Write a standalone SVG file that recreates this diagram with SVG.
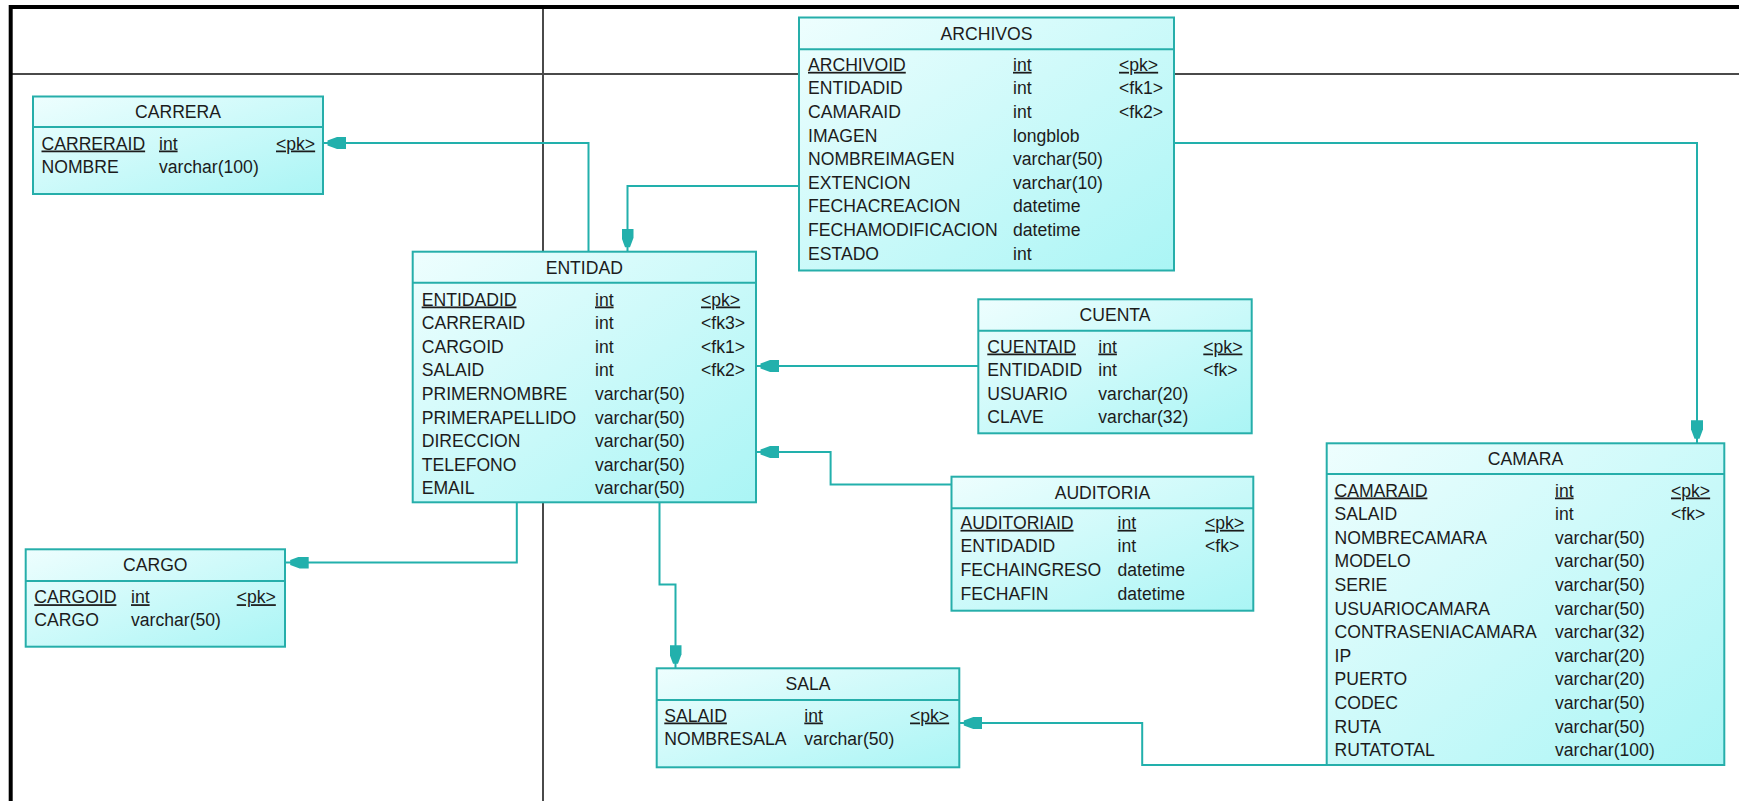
<svg xmlns="http://www.w3.org/2000/svg" width="1739" height="801" viewBox="0 0 1739 801">
<style>
text{font-family:"Liberation Sans",Arial,sans-serif;font-size:17.6px;fill:#1c1c1c}
.t{text-anchor:middle}
.u{text-decoration:underline}
.box{fill:url(#g);stroke:#26aeaa;stroke-width:2}
.hl{stroke:#26aeaa;stroke-width:2}
.c{fill:none;stroke:#22b0ac;stroke-width:2;marker-end:url(#arr)}
.frame{stroke:#000;stroke-width:4}
.thin{stroke:#4a4a4a;stroke-width:2}
</style>
<defs>
<linearGradient id="g" x1="0" y1="0" x2="1" y2="1">
<stop offset="0" stop-color="#eefefe"/>
<stop offset="1" stop-color="#aaf5f5"/>
</linearGradient>
<marker id="arr" viewBox="0 0 23 12" markerWidth="23" markerHeight="12" refX="23" refY="6" orient="auto" markerUnits="userSpaceOnUse">
<path d="M0,0 H9 L18.5,3.5 V8.5 L9,12 H0 Z" fill="#22b0ac"/>
</marker>
</defs>
<rect x="0" y="0" width="1739" height="801" fill="#fff"/>
<g id="frame">
<line class="thin" x1="12" y1="74" x2="1739" y2="74"/>
<line class="thin" x1="543" y1="9" x2="543" y2="801"/>
<line class="frame" x1="9" y1="7" x2="1739" y2="7"/>
<line class="frame" x1="10.7" y1="5" x2="10.7" y2="801"/>
</g>
<g id="connectors">
<path class="c" d="M588.5 251.7 V143 H323"/>
<path class="c" d="M799 186 H627.5 V251.7"/>
<path class="c" d="M1174 143 H1697 V443.3"/>
<path class="c" d="M978.3 366 H756"/>
<path class="c" d="M951.5 484.6 H830.6 V452 H756"/>
<path class="c" d="M516.8 502.3 V562.5 H285.7"/>
<path class="c" d="M659.5 502.3 V584.4 H675.5 V668.3"/>
<path class="c" d="M1326.7 765 H1142.2 V723 H959.3"/>
</g>
<g id="carrera">
<rect class="box" x="33" y="96.5" width="290" height="97.5"/>
<line class="hl" x1="33" y1="127" x2="323" y2="127"/>
<text class="t" x="178" y="118">CARRERA</text>
<text class="u" x="41.5" y="149.5">CARRERAID</text><text class="u" x="159" y="149.5">int</text><text class="u" x="276" y="149.5">&lt;pk&gt;</text>
<text x="41.5" y="173">NOMBRE</text><text x="159" y="173">varchar(100)</text>
</g>
<g id="archivos">
<rect class="box" x="799" y="17.5" width="375" height="253"/>
<line class="hl" x1="799" y1="49.3" x2="1174" y2="49.3"/>
<text class="t" x="986.5" y="39.5">ARCHIVOS</text>
<text class="u" x="808" y="70.8">ARCHIVOID</text><text class="u" x="1013" y="70.8">int</text><text class="u" x="1119" y="70.8">&lt;pk&gt;</text>
<text x="808" y="94.4">ENTIDADID</text><text x="1013" y="94.4">int</text><text x="1119" y="94.4">&lt;fk1&gt;</text>
<text x="808" y="118">CAMARAID</text><text x="1013" y="118">int</text><text x="1119" y="118">&lt;fk2&gt;</text>
<text x="808" y="141.6">IMAGEN</text><text x="1013" y="141.6">longblob</text>
<text x="808" y="165.2">NOMBREIMAGEN</text><text x="1013" y="165.2">varchar(50)</text>
<text x="808" y="188.8">EXTENCION</text><text x="1013" y="188.8">varchar(10)</text>
<text x="808" y="212.4">FECHACREACION</text><text x="1013" y="212.4">datetime</text>
<text x="808" y="236">FECHAMODIFICACION</text><text x="1013" y="236">datetime</text>
<text x="808" y="259.6">ESTADO</text><text x="1013" y="259.6">int</text>
</g>
<g id="entidad">
<rect class="box" x="412.7" y="251.7" width="343.3" height="250.6"/>
<line class="hl" x1="412.7" y1="282.7" x2="756" y2="282.7"/>
<text class="t" x="584.3" y="273.5">ENTIDAD</text>
<text class="u" x="421.7" y="305.5">ENTIDADID</text><text class="u" x="595" y="305.5">int</text><text class="u" x="701" y="305.5">&lt;pk&gt;</text>
<text x="421.7" y="329.1">CARRERAID</text><text x="595" y="329.1">int</text><text x="701" y="329.1">&lt;fk3&gt;</text>
<text x="421.7" y="352.7">CARGOID</text><text x="595" y="352.7">int</text><text x="701" y="352.7">&lt;fk1&gt;</text>
<text x="421.7" y="376.3">SALAID</text><text x="595" y="376.3">int</text><text x="701" y="376.3">&lt;fk2&gt;</text>
<text x="421.7" y="399.9">PRIMERNOMBRE</text><text x="595" y="399.9">varchar(50)</text>
<text x="421.7" y="423.5">PRIMERAPELLIDO</text><text x="595" y="423.5">varchar(50)</text>
<text x="421.7" y="447.1">DIRECCION</text><text x="595" y="447.1">varchar(50)</text>
<text x="421.7" y="470.7">TELEFONO</text><text x="595" y="470.7">varchar(50)</text>
<text x="421.7" y="494.3">EMAIL</text><text x="595" y="494.3">varchar(50)</text>
</g>
<g id="cuenta">
<rect class="box" x="978.3" y="299.3" width="273.4" height="134"/>
<line class="hl" x1="978.3" y1="330.7" x2="1251.7" y2="330.7"/>
<text class="t" x="1115" y="321">CUENTA</text>
<text class="u" x="987.3" y="352.5">CUENTAID</text><text class="u" x="1098.3" y="352.5">int</text><text class="u" x="1203.3" y="352.5">&lt;pk&gt;</text>
<text x="987.3" y="376.1">ENTIDADID</text><text x="1098.3" y="376.1">int</text><text x="1203.3" y="376.1">&lt;fk&gt;</text>
<text x="987.3" y="399.7">USUARIO</text><text x="1098.3" y="399.7">varchar(20)</text>
<text x="987.3" y="423.3">CLAVE</text><text x="1098.3" y="423.3">varchar(32)</text>
</g>
<g id="auditoria">
<rect class="box" x="951.5" y="476.7" width="301.8" height="134"/>
<line class="hl" x1="951.5" y1="508.3" x2="1253.3" y2="508.3"/>
<text class="t" x="1102.4" y="498.5">AUDITORIA</text>
<text class="u" x="960.5" y="528.8">AUDITORIAID</text><text class="u" x="1117.5" y="528.8">int</text><text class="u" x="1205" y="528.8">&lt;pk&gt;</text>
<text x="960.5" y="552.4">ENTIDADID</text><text x="1117.5" y="552.4">int</text><text x="1205" y="552.4">&lt;fk&gt;</text>
<text x="960.5" y="576">FECHAINGRESO</text><text x="1117.5" y="576">datetime</text>
<text x="960.5" y="599.6">FECHAFIN</text><text x="1117.5" y="599.6">datetime</text>
</g>
<g id="camara">
<rect class="box" x="1326.7" y="443.3" width="397.6" height="321.7"/>
<line class="hl" x1="1326.7" y1="474" x2="1724.3" y2="474"/>
<text class="t" x="1525.5" y="465">CAMARA</text>
<text class="u" x="1334.5" y="496.5">CAMARAID</text><text class="u" x="1555" y="496.5">int</text><text class="u" x="1671" y="496.5">&lt;pk&gt;</text>
<text x="1334.5" y="520.1">SALAID</text><text x="1555" y="520.1">int</text><text x="1671" y="520.1">&lt;fk&gt;</text>
<text x="1334.5" y="543.7">NOMBRECAMARA</text><text x="1555" y="543.7">varchar(50)</text>
<text x="1334.5" y="567.3">MODELO</text><text x="1555" y="567.3">varchar(50)</text>
<text x="1334.5" y="590.9">SERIE</text><text x="1555" y="590.9">varchar(50)</text>
<text x="1334.5" y="614.5">USUARIOCAMARA</text><text x="1555" y="614.5">varchar(50)</text>
<text x="1334.5" y="638.1">CONTRASENIACAMARA</text><text x="1555" y="638.1">varchar(32)</text>
<text x="1334.5" y="661.7">IP</text><text x="1555" y="661.7">varchar(20)</text>
<text x="1334.5" y="685.3">PUERTO</text><text x="1555" y="685.3">varchar(20)</text>
<text x="1334.5" y="708.9">CODEC</text><text x="1555" y="708.9">varchar(50)</text>
<text x="1334.5" y="732.5">RUTA</text><text x="1555" y="732.5">varchar(50)</text>
<text x="1334.5" y="756.1">RUTATOTAL</text><text x="1555" y="756.1">varchar(100)</text>
</g>
<g id="cargo">
<rect class="box" x="25.7" y="549.3" width="259.3" height="97.4"/>
<line class="hl" x1="25.7" y1="581" x2="285" y2="581"/>
<text class="t" x="155.3" y="571">CARGO</text>
<text class="u" x="34.3" y="603.2">CARGOID</text><text class="u" x="131" y="603.2">int</text><text class="u" x="236.7" y="603.2">&lt;pk&gt;</text>
<text x="34.3" y="626.3">CARGO</text><text x="131" y="626.3">varchar(50)</text>
</g>
<g id="sala">
<rect class="box" x="656.7" y="668.3" width="302.6" height="99"/>
<line class="hl" x1="656.7" y1="700" x2="959.3" y2="700"/>
<text class="t" x="808" y="690">SALA</text>
<text class="u" x="664.3" y="721.5">SALAID</text><text class="u" x="804.3" y="721.5">int</text><text class="u" x="910" y="721.5">&lt;pk&gt;</text>
<text x="664.3" y="745">NOMBRESALA</text><text x="804.3" y="745">varchar(50)</text>
</g>
</svg>
